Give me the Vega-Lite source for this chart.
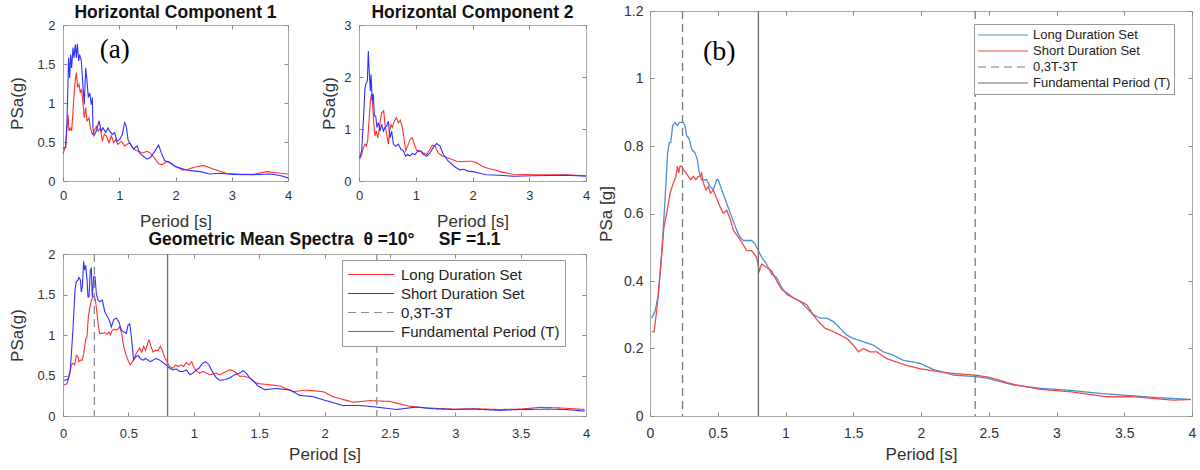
{
"$schema": "https://vega.github.io/schema/vega-lite/v6.json",
"background": "white",
"padding": {"left": 8, "top": 3, "right": 2, "bottom": 2},
"config": {
  "font": "Liberation Sans",
  "view": {"stroke": "#a8a8a8", "strokeWidth": 1},
  "axis": {"domain": false, "grid": false, "minExtent": 0, "tickColor": "#8a8a8a", "tickSize": -4, "labelFlush": false, "labelOverlap": false, "labelColor": "#333333", "titleColor": "#333333", "titleFontWeight": "normal", "labelFont": "Liberation Sans", "titleFont": "Liberation Sans"},
  "axisX": {"minExtent": 0},
  "axisY": {"minExtent": 0}
},
"datasets": {
  "hc1L": [{"T":0,"PSa":0.35},{"T":0.047,"PSa":0.45},{"T":0.089,"PSa":0.85},{"T":0.107,"PSa":0.64},{"T":0.13,"PSa":0.68},{"T":0.154,"PSa":0.64},{"T":0.178,"PSa":0.9},{"T":0.207,"PSa":1.22},{"T":0.237,"PSa":1.39},{"T":0.261,"PSa":1.2},{"T":0.284,"PSa":1.24},{"T":0.308,"PSa":1.13},{"T":0.332,"PSa":1.18},{"T":0.356,"PSa":0.98},{"T":0.379,"PSa":0.81},{"T":0.403,"PSa":0.94},{"T":0.427,"PSa":0.77},{"T":0.462,"PSa":0.81},{"T":0.486,"PSa":0.68},{"T":0.521,"PSa":0.6},{"T":0.557,"PSa":0.64},{"T":0.593,"PSa":0.7},{"T":0.628,"PSa":0.64},{"T":0.664,"PSa":0.68},{"T":0.699,"PSa":0.51},{"T":0.735,"PSa":0.6},{"T":0.77,"PSa":0.58},{"T":0.818,"PSa":0.49},{"T":0.859,"PSa":0.58},{"T":0.901,"PSa":0.49},{"T":0.936,"PSa":0.53},{"T":0.978,"PSa":0.47},{"T":1.037,"PSa":0.51},{"T":1.096,"PSa":0.45},{"T":1.185,"PSa":0.49},{"T":1.256,"PSa":0.41},{"T":1.333,"PSa":0.38},{"T":1.422,"PSa":0.36},{"T":1.493,"PSa":0.38},{"T":1.55,"PSa":0.36},{"T":1.62,"PSa":0.3},{"T":1.7,"PSa":0.22},{"T":1.76,"PSa":0.21},{"T":1.85,"PSa":0.25},{"T":1.93,"PSa":0.22},{"T":2.02,"PSa":0.18},{"T":2.13,"PSa":0.14},{"T":2.22,"PSa":0.15},{"T":2.35,"PSa":0.18},{"T":2.5,"PSa":0.2},{"T":2.68,"PSa":0.15},{"T":2.9,"PSa":0.1},{"T":3.15,"PSa":0.085},{"T":3.38,"PSa":0.085},{"T":3.62,"PSa":0.12},{"T":3.86,"PSa":0.1},{"T":4,"PSa":0.09}],
  "hc1S": [{"T":0,"PSa":0.42},{"T":0.047,"PSa":0.43},{"T":0.071,"PSa":0.77},{"T":0.1,"PSa":1.58},{"T":0.119,"PSa":1.32},{"T":0.136,"PSa":1.62},{"T":0.154,"PSa":1.45},{"T":0.178,"PSa":1.71},{"T":0.196,"PSa":1.58},{"T":0.219,"PSa":1.75},{"T":0.237,"PSa":1.58},{"T":0.255,"PSa":1.76},{"T":0.279,"PSa":1.54},{"T":0.296,"PSa":1.62},{"T":0.326,"PSa":1.54},{"T":0.356,"PSa":1.2},{"T":0.379,"PSa":0.98},{"T":0.403,"PSa":1.45},{"T":0.427,"PSa":1.28},{"T":0.45,"PSa":1.07},{"T":0.474,"PSa":1.13},{"T":0.504,"PSa":0.98},{"T":0.521,"PSa":1.07},{"T":0.533,"PSa":0.68},{"T":0.551,"PSa":0.58},{"T":0.593,"PSa":0.64},{"T":0.64,"PSa":0.77},{"T":0.681,"PSa":0.64},{"T":0.711,"PSa":0.68},{"T":0.759,"PSa":0.62},{"T":0.8,"PSa":0.68},{"T":0.83,"PSa":0.64},{"T":0.877,"PSa":0.6},{"T":0.919,"PSa":0.62},{"T":0.96,"PSa":0.51},{"T":1.007,"PSa":0.53},{"T":1.055,"PSa":0.6},{"T":1.096,"PSa":0.75},{"T":1.126,"PSa":0.7},{"T":1.156,"PSa":0.53},{"T":1.197,"PSa":0.47},{"T":1.256,"PSa":0.41},{"T":1.316,"PSa":0.45},{"T":1.363,"PSa":0.36},{"T":1.422,"PSa":0.32},{"T":1.493,"PSa":0.28},{"T":1.553,"PSa":0.3},{"T":1.63,"PSa":0.38},{"T":1.7,"PSa":0.46},{"T":1.748,"PSa":0.36},{"T":1.807,"PSa":0.26},{"T":1.896,"PSa":0.24},{"T":1.985,"PSa":0.19},{"T":2.074,"PSa":0.17},{"T":2.193,"PSa":0.14},{"T":2.311,"PSa":0.13},{"T":2.44,"PSa":0.12},{"T":2.61,"PSa":0.09},{"T":2.79,"PSa":0.1},{"T":3.03,"PSa":0.085},{"T":3.38,"PSa":0.08},{"T":3.68,"PSa":0.09},{"T":3.86,"PSa":0.07},{"T":4,"PSa":0.04}],
  "hc2L": [{"T":0.012,"PSa":0.42},{"T":0.047,"PSa":0.51},{"T":0.076,"PSa":0.64},{"T":0.106,"PSa":0.71},{"T":0.129,"PSa":0.67},{"T":0.153,"PSa":0.77},{"T":0.176,"PSa":1.15},{"T":0.2,"PSa":1.54},{"T":0.223,"PSa":1.67},{"T":0.241,"PSa":1.47},{"T":0.258,"PSa":1.15},{"T":0.282,"PSa":0.87},{"T":0.305,"PSa":0.96},{"T":0.329,"PSa":0.83},{"T":0.352,"PSa":0.96},{"T":0.376,"PSa":1.15},{"T":0.399,"PSa":1.31},{"T":0.435,"PSa":1.35},{"T":0.458,"PSa":1.09},{"T":0.488,"PSa":0.9},{"T":0.517,"PSa":0.71},{"T":0.54,"PSa":0.96},{"T":0.564,"PSa":1.09},{"T":0.587,"PSa":1.03},{"T":0.623,"PSa":1.15},{"T":0.658,"PSa":1.22},{"T":0.693,"PSa":1.12},{"T":0.728,"PSa":1.17},{"T":0.764,"PSa":1.03},{"T":0.799,"PSa":0.77},{"T":0.822,"PSa":0.58},{"T":0.858,"PSa":0.67},{"T":0.899,"PSa":0.8},{"T":0.94,"PSa":0.83},{"T":0.975,"PSa":0.71},{"T":1.016,"PSa":0.59},{"T":1.057,"PSa":0.56},{"T":1.093,"PSa":0.58},{"T":1.134,"PSa":0.54},{"T":1.192,"PSa":0.51},{"T":1.251,"PSa":0.61},{"T":1.292,"PSa":0.69},{"T":1.339,"PSa":0.67},{"T":1.398,"PSa":0.54},{"T":1.468,"PSa":0.48},{"T":1.545,"PSa":0.45},{"T":1.633,"PSa":0.42},{"T":1.721,"PSa":0.38},{"T":1.809,"PSa":0.37},{"T":1.897,"PSa":0.38},{"T":1.985,"PSa":0.38},{"T":2.073,"PSa":0.35},{"T":2.162,"PSa":0.29},{"T":2.279,"PSa":0.24},{"T":2.397,"PSa":0.21},{"T":2.48,"PSa":0.18},{"T":2.72,"PSa":0.13},{"T":3.07,"PSa":0.12},{"T":3.42,"PSa":0.12},{"T":3.66,"PSa":0.12},{"T":4,"PSa":0.1}],
  "hc2S": [{"T":0.012,"PSa":0.45},{"T":0.047,"PSa":0.58},{"T":0.076,"PSa":1.15},{"T":0.106,"PSa":1.79},{"T":0.129,"PSa":1.89},{"T":0.147,"PSa":1.92},{"T":0.164,"PSa":2.5},{"T":0.182,"PSa":2.05},{"T":0.2,"PSa":1.73},{"T":0.211,"PSa":2.05},{"T":0.235,"PSa":1.54},{"T":0.253,"PSa":1.67},{"T":0.27,"PSa":1.25},{"T":0.294,"PSa":1.25},{"T":0.317,"PSa":1.03},{"T":0.341,"PSa":1.12},{"T":0.37,"PSa":0.96},{"T":0.399,"PSa":1.09},{"T":0.429,"PSa":0.96},{"T":0.458,"PSa":1.03},{"T":0.488,"PSa":1.06},{"T":0.517,"PSa":1.15},{"T":0.546,"PSa":0.83},{"T":0.576,"PSa":0.96},{"T":0.605,"PSa":0.71},{"T":0.646,"PSa":0.67},{"T":0.693,"PSa":0.71},{"T":0.74,"PSa":0.61},{"T":0.781,"PSa":0.58},{"T":0.822,"PSa":0.48},{"T":0.858,"PSa":0.51},{"T":0.899,"PSa":0.48},{"T":0.94,"PSa":0.53},{"T":0.987,"PSa":0.51},{"T":1.046,"PSa":0.59},{"T":1.093,"PSa":0.56},{"T":1.134,"PSa":0.51},{"T":1.192,"PSa":0.48},{"T":1.251,"PSa":0.54},{"T":1.31,"PSa":0.65},{"T":1.369,"PSa":0.72},{"T":1.427,"PSa":0.67},{"T":1.486,"PSa":0.51},{"T":1.574,"PSa":0.38},{"T":1.692,"PSa":0.27},{"T":1.78,"PSa":0.21},{"T":1.84,"PSa":0.225},{"T":1.927,"PSa":0.19},{"T":2.01,"PSa":0.18},{"T":2.162,"PSa":0.14},{"T":2.25,"PSa":0.12},{"T":2.48,"PSa":0.11},{"T":2.72,"PSa":0.09},{"T":3.07,"PSa":0.1},{"T":3.66,"PSa":0.11},{"T":4,"PSa":0.09}],
  "gmL": [{"T":0.005,"PSa":0.38},{"T":0.031,"PSa":0.4},{"T":0.051,"PSa":0.51},{"T":0.064,"PSa":0.63},{"T":0.076,"PSa":0.65},{"T":0.089,"PSa":0.63},{"T":0.102,"PSa":0.75},{"T":0.115,"PSa":0.73},{"T":0.122,"PSa":0.67},{"T":0.133,"PSa":0.69},{"T":0.148,"PSa":0.69},{"T":0.158,"PSa":0.77},{"T":0.173,"PSa":0.94},{"T":0.184,"PSa":0.98},{"T":0.194,"PSa":1.23},{"T":0.204,"PSa":1.33},{"T":0.217,"PSa":1.43},{"T":0.229,"PSa":1.47},{"T":0.24,"PSa":1.49},{"T":0.25,"PSa":1.41},{"T":0.26,"PSa":1.27},{"T":0.27,"PSa":1.12},{"T":0.28,"PSa":1.02},{"T":0.301,"PSa":1.02},{"T":0.319,"PSa":1.03},{"T":0.337,"PSa":1.01},{"T":0.352,"PSa":1.04},{"T":0.362,"PSa":1.0},{"T":0.377,"PSa":1.06},{"T":0.395,"PSa":1.07},{"T":0.413,"PSa":1.06},{"T":0.433,"PSa":1.1},{"T":0.449,"PSa":1.02},{"T":0.464,"PSa":0.86},{"T":0.479,"PSa":0.77},{"T":0.497,"PSa":0.69},{"T":0.515,"PSa":0.63},{"T":0.53,"PSa":0.67},{"T":0.548,"PSa":0.73},{"T":0.566,"PSa":0.79},{"T":0.586,"PSa":0.84},{"T":0.602,"PSa":0.79},{"T":0.617,"PSa":0.86},{"T":0.632,"PSa":0.81},{"T":0.648,"PSa":0.9},{"T":0.658,"PSa":0.94},{"T":0.673,"PSa":0.86},{"T":0.688,"PSa":0.79},{"T":0.709,"PSa":0.81},{"T":0.729,"PSa":0.81},{"T":0.744,"PSa":0.86},{"T":0.76,"PSa":0.81},{"T":0.775,"PSa":0.73},{"T":0.795,"PSa":0.67},{"T":0.816,"PSa":0.61},{"T":0.841,"PSa":0.59},{"T":0.862,"PSa":0.63},{"T":0.882,"PSa":0.61},{"T":0.902,"PSa":0.63},{"T":0.923,"PSa":0.61},{"T":0.943,"PSa":0.66},{"T":0.964,"PSa":0.63},{"T":0.984,"PSa":0.67},{"T":1.004,"PSa":0.59},{"T":1.025,"PSa":0.55},{"T":1.045,"PSa":0.53},{"T":1.071,"PSa":0.55},{"T":1.096,"PSa":0.53},{"T":1.122,"PSa":0.51},{"T":1.147,"PSa":0.52},{"T":1.173,"PSa":0.53},{"T":1.198,"PSa":0.51},{"T":1.224,"PSa":0.53},{"T":1.249,"PSa":0.55},{"T":1.275,"PSa":0.57},{"T":1.3,"PSa":0.56},{"T":1.326,"PSa":0.53},{"T":1.351,"PSa":0.49},{"T":1.389,"PSa":0.49},{"T":1.428,"PSa":0.47},{"T":1.466,"PSa":0.42},{"T":1.491,"PSa":0.4},{"T":1.56,"PSa":0.39},{"T":1.66,"PSa":0.37},{"T":1.76,"PSa":0.3},{"T":1.86,"PSa":0.32},{"T":1.99,"PSa":0.3},{"T":2.07,"PSa":0.235},{"T":2.22,"PSa":0.17},{"T":2.35,"PSa":0.19},{"T":2.5,"PSa":0.18},{"T":2.65,"PSa":0.12},{"T":2.78,"PSa":0.1},{"T":2.99,"PSa":0.085},{"T":3.14,"PSa":0.09},{"T":3.34,"PSa":0.08},{"T":3.49,"PSa":0.085},{"T":3.65,"PSa":0.107},{"T":3.8,"PSa":0.1},{"T":3.99,"PSa":0.08}],
  "gmS": [{"T":0.005,"PSa":0.44},{"T":0.038,"PSa":0.45},{"T":0.056,"PSa":0.57},{"T":0.076,"PSa":1.06},{"T":0.092,"PSa":1.56},{"T":0.102,"PSa":1.66},{"T":0.115,"PSa":1.68},{"T":0.122,"PSa":1.71},{"T":0.133,"PSa":1.68},{"T":0.14,"PSa":1.53},{"T":0.148,"PSa":1.6},{"T":0.158,"PSa":1.91},{"T":0.166,"PSa":1.8},{"T":0.173,"PSa":1.86},{"T":0.184,"PSa":1.68},{"T":0.191,"PSa":1.47},{"T":0.199,"PSa":1.47},{"T":0.209,"PSa":1.8},{"T":0.217,"PSa":1.82},{"T":0.224,"PSa":1.47},{"T":0.235,"PSa":1.72},{"T":0.245,"PSa":1.72},{"T":0.255,"PSa":1.51},{"T":0.268,"PSa":1.43},{"T":0.28,"PSa":1.41},{"T":0.301,"PSa":1.43},{"T":0.319,"PSa":1.29},{"T":0.331,"PSa":1.25},{"T":0.352,"PSa":1.19},{"T":0.37,"PSa":1.1},{"T":0.388,"PSa":1.19},{"T":0.408,"PSa":1.21},{"T":0.428,"PSa":1.16},{"T":0.446,"PSa":1.06},{"T":0.464,"PSa":1.04},{"T":0.484,"PSa":1.02},{"T":0.497,"PSa":1.12},{"T":0.51,"PSa":1.14},{"T":0.523,"PSa":0.98},{"T":0.54,"PSa":0.69},{"T":0.556,"PSa":0.73},{"T":0.574,"PSa":0.75},{"T":0.591,"PSa":0.71},{"T":0.612,"PSa":0.69},{"T":0.632,"PSa":0.71},{"T":0.65,"PSa":0.69},{"T":0.668,"PSa":0.67},{"T":0.688,"PSa":0.69},{"T":0.714,"PSa":0.71},{"T":0.739,"PSa":0.69},{"T":0.765,"PSa":0.66},{"T":0.79,"PSa":0.63},{"T":0.816,"PSa":0.59},{"T":0.841,"PSa":0.57},{"T":0.867,"PSa":0.58},{"T":0.892,"PSa":0.55},{"T":0.918,"PSa":0.55},{"T":0.943,"PSa":0.57},{"T":0.969,"PSa":0.51},{"T":0.994,"PSa":0.53},{"T":1.02,"PSa":0.57},{"T":1.04,"PSa":0.59},{"T":1.066,"PSa":0.65},{"T":1.091,"PSa":0.67},{"T":1.117,"PSa":0.63},{"T":1.142,"PSa":0.55},{"T":1.173,"PSa":0.47},{"T":1.198,"PSa":0.44},{"T":1.236,"PSa":0.45},{"T":1.275,"PSa":0.47},{"T":1.313,"PSa":0.51},{"T":1.351,"PSa":0.53},{"T":1.377,"PSa":0.56},{"T":1.402,"PSa":0.53},{"T":1.428,"PSa":0.47},{"T":1.453,"PSa":0.44},{"T":1.491,"PSa":0.37},{"T":1.545,"PSa":0.325},{"T":1.63,"PSa":0.34},{"T":1.74,"PSa":0.32},{"T":1.81,"PSa":0.255},{"T":1.91,"PSa":0.24},{"T":1.99,"PSa":0.2},{"T":2.14,"PSa":0.13},{"T":2.27,"PSa":0.13},{"T":2.4,"PSa":0.11},{"T":2.55,"PSa":0.08},{"T":2.7,"PSa":0.11},{"T":2.83,"PSa":0.09},{"T":2.99,"PSa":0.08},{"T":3.14,"PSa":0.085},{"T":3.34,"PSa":0.07},{"T":3.49,"PSa":0.08},{"T":3.7,"PSa":0.085},{"T":3.85,"PSa":0.08},{"T":3.99,"PSa":0.06}],
  "bL": [{"T":0.012,"PSa":0.29},{"T":0.037,"PSa":0.31},{"T":0.062,"PSa":0.36},{"T":0.086,"PSa":0.48},{"T":0.111,"PSa":0.64},{"T":0.13,"PSa":0.78},{"T":0.143,"PSa":0.81},{"T":0.153,"PSa":0.81},{"T":0.167,"PSa":0.86},{"T":0.185,"PSa":0.87},{"T":0.202,"PSa":0.86},{"T":0.216,"PSa":0.87},{"T":0.234,"PSa":0.87},{"T":0.246,"PSa":0.87},{"T":0.258,"PSa":0.86},{"T":0.271,"PSa":0.83},{"T":0.29,"PSa":0.82},{"T":0.308,"PSa":0.79},{"T":0.332,"PSa":0.78},{"T":0.349,"PSa":0.76},{"T":0.364,"PSa":0.72},{"T":0.381,"PSa":0.7},{"T":0.399,"PSa":0.7},{"T":0.418,"PSa":0.7},{"T":0.443,"PSa":0.68},{"T":0.467,"PSa":0.67},{"T":0.492,"PSa":0.7},{"T":0.504,"PSa":0.7},{"T":0.529,"PSa":0.67},{"T":0.566,"PSa":0.63},{"T":0.603,"PSa":0.59},{"T":0.64,"PSa":0.55},{"T":0.664,"PSa":0.53},{"T":0.689,"PSa":0.52},{"T":0.713,"PSa":0.52},{"T":0.75,"PSa":0.52},{"T":0.775,"PSa":0.51},{"T":0.8,"PSa":0.49},{"T":0.824,"PSa":0.47},{"T":0.861,"PSa":0.45},{"T":0.898,"PSa":0.42},{"T":0.935,"PSa":0.41},{"T":0.972,"PSa":0.38},{"T":1.009,"PSa":0.36},{"T":1.058,"PSa":0.35},{"T":1.107,"PSa":0.34},{"T":1.156,"PSa":0.32},{"T":1.205,"PSa":0.3},{"T":1.255,"PSa":0.29},{"T":1.304,"PSa":0.29},{"T":1.353,"PSa":0.28},{"T":1.402,"PSa":0.26},{"T":1.451,"PSa":0.24},{"T":1.501,"PSa":0.23},{"T":1.574,"PSa":0.22},{"T":1.648,"PSa":0.21},{"T":1.722,"PSa":0.19},{"T":1.796,"PSa":0.18},{"T":1.87,"PSa":0.165},{"T":1.943,"PSa":0.16},{"T":2.0,"PSa":0.155},{"T":2.09,"PSa":0.138},{"T":2.24,"PSa":0.121},{"T":2.4,"PSa":0.117},{"T":2.49,"PSa":0.112},{"T":2.68,"PSa":0.092},{"T":2.88,"PSa":0.082},{"T":3.1,"PSa":0.076},{"T":3.32,"PSa":0.067},{"T":3.52,"PSa":0.061},{"T":3.76,"PSa":0.054},{"T":3.99,"PSa":0.049}],
  "bS": [{"T":0.012,"PSa":0.25},{"T":0.03,"PSa":0.25},{"T":0.049,"PSa":0.31},{"T":0.074,"PSa":0.42},{"T":0.103,"PSa":0.56},{"T":0.123,"PSa":0.6},{"T":0.148,"PSa":0.66},{"T":0.172,"PSa":0.69},{"T":0.192,"PSa":0.71},{"T":0.202,"PSa":0.74},{"T":0.212,"PSa":0.72},{"T":0.221,"PSa":0.74},{"T":0.234,"PSa":0.74},{"T":0.246,"PSa":0.73},{"T":0.266,"PSa":0.72},{"T":0.283,"PSa":0.71},{"T":0.3,"PSa":0.7},{"T":0.32,"PSa":0.71},{"T":0.339,"PSa":0.7},{"T":0.357,"PSa":0.71},{"T":0.369,"PSa":0.71},{"T":0.381,"PSa":0.72},{"T":0.394,"PSa":0.69},{"T":0.413,"PSa":0.67},{"T":0.43,"PSa":0.68},{"T":0.448,"PSa":0.66},{"T":0.467,"PSa":0.67},{"T":0.487,"PSa":0.65},{"T":0.517,"PSa":0.62},{"T":0.541,"PSa":0.6},{"T":0.566,"PSa":0.61},{"T":0.595,"PSa":0.58},{"T":0.615,"PSa":0.55},{"T":0.652,"PSa":0.53},{"T":0.684,"PSa":0.51},{"T":0.713,"PSa":0.49},{"T":0.75,"PSa":0.49},{"T":0.787,"PSa":0.47},{"T":0.807,"PSa":0.43},{"T":0.824,"PSa":0.45},{"T":0.861,"PSa":0.44},{"T":0.898,"PSa":0.43},{"T":0.935,"PSa":0.4},{"T":0.972,"PSa":0.375},{"T":1.009,"PSa":0.365},{"T":1.058,"PSa":0.35},{"T":1.107,"PSa":0.34},{"T":1.156,"PSa":0.33},{"T":1.205,"PSa":0.3},{"T":1.242,"PSa":0.28},{"T":1.292,"PSa":0.26},{"T":1.353,"PSa":0.25},{"T":1.402,"PSa":0.24},{"T":1.451,"PSa":0.23},{"T":1.501,"PSa":0.21},{"T":1.538,"PSa":0.19},{"T":1.574,"PSa":0.2},{"T":1.624,"PSa":0.19},{"T":1.673,"PSa":0.19},{"T":1.747,"PSa":0.17},{"T":1.82,"PSa":0.16},{"T":1.894,"PSa":0.15},{"T":1.993,"PSa":0.14},{"T":2.14,"PSa":0.131},{"T":2.24,"PSa":0.126},{"T":2.4,"PSa":0.121},{"T":2.51,"PSa":0.114},{"T":2.68,"PSa":0.094},{"T":2.88,"PSa":0.079},{"T":3.1,"PSa":0.072},{"T":3.37,"PSa":0.057},{"T":3.57,"PSa":0.057},{"T":3.86,"PSa":0.047},{"T":3.99,"PSa":0.049}],
  "dashT": [{"T":0.24},{"T":2.4}],
  "fundT": [{"T":0.8}],
  "tagA": [{"label":"(a)"}],
  "tagB": [{"label":"(b)"}]
},
"hconcat": [
  {"vconcat": [
    {"width": 523, "height": 14, "view": {"stroke": null}, "data": {"values": []}, "mark": {"type": "rule", "opacity": 0}, "encoding": {}},
    {"vconcat": [
      {"hconcat": [
        {"width": 225, "height": 156,
         "title": {"text": "Horizontal Component 1", "fontSize": 17.5, "fontWeight": "bold", "baseline": "alphabetic", "offset": -16, "color": "#111111", "font": "Liberation Sans"},
         "layer": [
           {"data": {"name": "hc1L"}, "mark": {"type": "line", "color": "#ff3030", "strokeWidth": 1.1},
            "encoding": {
              "x": {"field": "T", "type": "quantitative", "scale": {"domain": [0, 4]}, "axis": {"values": [0,1,2,3,4], "format": "~g", "title": "Period [s]", "labelFontSize": 13, "titleFontSize": 17, "labelPadding": 12, "titlePadding": 11}},
              "y": {"field": "PSa", "type": "quantitative", "scale": {"domain": [0, 2]}, "axis": {"values": [0,0.5,1,1.5,2], "format": "~g", "title": "PSa(g)", "labelFontSize": 13, "titleFontSize": 17, "labelPadding": 12, "titlePadding": 10}}}},
           {"data": {"name": "hc1S"}, "mark": {"type": "line", "color": "#3030ff", "strokeWidth": 1.1},
            "encoding": {
              "x": {"field": "T", "type": "quantitative", "axis": {"orient": "top", "values": [0,1,2,3,4], "labels": false, "title": null}},
              "y": {"field": "PSa", "type": "quantitative", "axis": {"orient": "right", "values": [0,0.5,1,1.5,2], "labels": false, "title": null}}}},
           {"data": {"name": "tagA"}, "mark": {"type": "text", "font": "Liberation Serif", "fontSize": 27, "color": "#000000", "baseline": "middle", "align": "center"},
            "encoding": {"x": {"datum": 0.92, "type": "quantitative", "axis": null}, "y": {"datum": 1.68, "type": "quantitative", "axis": null}, "text": {"field": "label"}}}
         ],
         "resolve": {"axis": {"x": "independent", "y": "independent"}}},
        {"width": 227, "height": 156,
         "title": {"text": "Horizontal Component 2", "fontSize": 17.5, "fontWeight": "bold", "baseline": "alphabetic", "offset": -16, "color": "#111111", "font": "Liberation Sans"},
         "layer": [
           {"data": {"name": "hc2L"}, "mark": {"type": "line", "color": "#ff3030", "strokeWidth": 1.1},
            "encoding": {
              "x": {"field": "T", "type": "quantitative", "scale": {"domain": [0, 4]}, "axis": {"values": [0,1,2,3,4], "format": "~g", "title": "Period [s]", "labelFontSize": 13, "titleFontSize": 17, "labelPadding": 12, "titlePadding": 11}},
              "y": {"field": "PSa", "type": "quantitative", "scale": {"domain": [0, 3]}, "axis": {"values": [0,1,2,3], "format": "~g", "title": "PSa(g)", "labelFontSize": 13, "titleFontSize": 17, "labelPadding": 12, "titlePadding": 5.5}}}},
           {"data": {"name": "hc2S"}, "mark": {"type": "line", "color": "#3030ff", "strokeWidth": 1.1},
            "encoding": {
              "x": {"field": "T", "type": "quantitative", "axis": {"orient": "top", "values": [0,1,2,3,4], "labels": false, "title": null}},
              "y": {"field": "PSa", "type": "quantitative", "axis": {"orient": "right", "values": [0,1,2,3], "labels": false, "title": null}}}}
         ],
         "resolve": {"axis": {"x": "independent", "y": "independent"}}}
      ], "spacing": 71, "bounds": "flush"},
      {"width": 523, "height": 162,
       "title": {"text": "Geometric Mean Spectra \u00a0\u03b8 =10\u00b0\u00a0\u00a0\u00a0\u00a0 SF =1.1", "fontSize": 17.5, "fontWeight": "bold", "baseline": "alphabetic", "offset": -14, "color": "#111111", "font": "Liberation Sans"},
       "layer": [
         {"data": {"name": "gmL"}, "mark": {"type": "line", "strokeWidth": 1.1},
          "encoding": {
            "x": {"field": "T", "type": "quantitative", "scale": {"domain": [0, 4]}, "axis": {"values": [0,0.5,1,1.5,2,2.5,3,3.5,4], "format": "~g", "title": "Period [s]", "labelFontSize": 13, "titleFontSize": 17, "labelPadding": 15, "titlePadding": 6}},
            "y": {"field": "PSa", "type": "quantitative", "scale": {"domain": [0, 2]}, "axis": {"values": [0,0.5,1,1.5,2], "format": "~g", "title": "PSa(g)", "labelFontSize": 13, "titleFontSize": 17, "labelPadding": 12, "titlePadding": 10}},
            "color": {"datum": "Long Duration Set", "type": "nominal", "scale": {"domain": ["Long Duration Set", "Short Duration Set", "0,3T-3T", "Fundamental Period (T)"], "range": ["#ff3030", "#3030ff", "#8c8c8c", "#6e6e6e"]},
              "legend": {"title": null, "orient": "none", "legendX": 279, "legendY": 6, "symbolType": "stroke", "symbolSize": 2116, "symbolStrokeWidth": 1.2, "labelFontSize": 15, "labelFont": "Liberation Sans", "labelColor": "#222222", "labelOffset": 6, "padding": 5, "strokeColor": "#999999", "fillColor": "white", "rowPadding": 0, "clipHeight": 19, "labelLimit": 300}},
            "strokeDash": {"datum": "Long Duration Set", "type": "nominal", "scale": {"domain": ["Long Duration Set", "Short Duration Set", "0,3T-3T", "Fundamental Period (T)"], "range": [[1,0],[1,0],[8,5],[1,0]]},
              "legend": {"title": null, "orient": "none", "legendX": 279, "legendY": 6, "symbolType": "stroke", "symbolSize": 2116, "symbolStrokeWidth": 1.2, "labelFontSize": 15, "labelFont": "Liberation Sans", "labelColor": "#222222", "labelOffset": 6, "padding": 5, "strokeColor": "#999999", "fillColor": "white", "rowPadding": 0, "clipHeight": 19, "labelLimit": 300}}}},
         {"data": {"name": "gmS"}, "mark": {"type": "line", "strokeWidth": 1.1},
          "encoding": {
            "x": {"field": "T", "type": "quantitative", "axis": {"orient": "top", "values": [0,0.5,1,1.5,2,2.5,3,3.5,4], "labels": false, "title": null}},
            "y": {"field": "PSa", "type": "quantitative", "axis": {"orient": "right", "values": [0,0.5,1,1.5,2], "labels": false, "title": null}},
            "color": {"datum": "Short Duration Set", "type": "nominal"},
            "strokeDash": {"datum": "Short Duration Set", "type": "nominal"}}},
         {"data": {"name": "dashT"}, "mark": {"type": "rule", "strokeWidth": 1.3},
          "encoding": {
            "x": {"field": "T", "type": "quantitative", "axis": null},
            "color": {"datum": "0,3T-3T", "type": "nominal"},
            "strokeDash": {"datum": "0,3T-3T", "type": "nominal"}}},
         {"data": {"name": "fundT"}, "mark": {"type": "rule", "strokeWidth": 1.3},
          "encoding": {
            "x": {"field": "T", "type": "quantitative", "axis": null},
            "color": {"datum": "Fundamental Period (T)", "type": "nominal"},
            "strokeDash": {"datum": "Fundamental Period (T)", "type": "nominal"}}}
       ],
       "resolve": {"axis": {"x": "independent", "y": "independent"}}}
    ], "spacing": 0, "bounds": "full",
    "resolve": {"scale": {"color": "independent", "strokeDash": "independent"}, "legend": {"color": "independent", "strokeDash": "independent"}}}
  ], "spacing": 0, "bounds": "flush",
  "resolve": {"scale": {"color": "independent", "strokeDash": "independent"}, "legend": {"color": "independent", "strokeDash": "independent"}}},
  {"width": 542, "height": 405,
   "layer": [
     {"data": {"name": "bL"}, "mark": {"type": "line", "strokeWidth": 1.3},
      "encoding": {
        "x": {"field": "T", "type": "quantitative", "scale": {"domain": [0, 4]}, "axis": {"values": [0,0.5,1,1.5,2,2.5,3,3.5,4], "format": "~g", "title": "Period [s]", "labelFontSize": 14, "titleFontSize": 17, "labelPadding": 14, "titlePadding": 6}},
        "y": {"field": "PSa", "type": "quantitative", "scale": {"domain": [0, 1.2]}, "axis": {"values": [0,0.2,0.4,0.6,0.8,1,1.2], "format": "~g", "title": "PSa [g]", "labelFontSize": 14, "titleFontSize": 17, "labelPadding": 11, "titlePadding": 8}},
        "color": {"datum": "Long Duration Set", "type": "nominal", "scale": {"domain": ["Long Duration Set", "Short Duration Set", "0,3T-3T", "Fundamental Period (T)"], "range": ["#4a8fd4", "#f24a4a", "#7a7a7a", "#6a6a6a"]},
          "legend": {"title": null, "orient": "none", "legendX": 324, "legendY": 13, "symbolType": "stroke", "symbolSize": 2500, "symbolStrokeWidth": 1.2, "labelFontSize": 13, "labelFont": "Liberation Sans", "labelColor": "#222222", "labelOffset": 4, "padding": 3, "strokeColor": "#999999", "fillColor": "white", "rowPadding": 0, "clipHeight": 16, "labelLimit": 300}},
        "strokeDash": {"datum": "Long Duration Set", "type": "nominal", "scale": {"domain": ["Long Duration Set", "Short Duration Set", "0,3T-3T", "Fundamental Period (T)"], "range": [[1,0],[1,0],[8,5],[1,0]]},
          "legend": {"title": null, "orient": "none", "legendX": 324, "legendY": 13, "symbolType": "stroke", "symbolSize": 2500, "symbolStrokeWidth": 1.2, "labelFontSize": 13, "labelFont": "Liberation Sans", "labelColor": "#222222", "labelOffset": 4, "padding": 3, "strokeColor": "#999999", "fillColor": "white", "rowPadding": 0, "clipHeight": 16, "labelLimit": 300}}}},
     {"data": {"name": "bS"}, "mark": {"type": "line", "strokeWidth": 1.3},
      "encoding": {
        "x": {"field": "T", "type": "quantitative", "axis": {"orient": "top", "values": [0,0.5,1,1.5,2,2.5,3,3.5,4], "labels": false, "title": null}},
        "y": {"field": "PSa", "type": "quantitative", "axis": {"orient": "right", "values": [0,0.2,0.4,0.6,0.8,1,1.2], "labels": false, "title": null}},
        "color": {"datum": "Short Duration Set", "type": "nominal"},
        "strokeDash": {"datum": "Short Duration Set", "type": "nominal"}}},
     {"data": {"name": "dashT"}, "mark": {"type": "rule", "strokeWidth": 1.3},
      "encoding": {
        "x": {"field": "T", "type": "quantitative", "axis": null},
        "color": {"datum": "0,3T-3T", "type": "nominal"},
        "strokeDash": {"datum": "0,3T-3T", "type": "nominal"}}},
     {"data": {"name": "fundT"}, "mark": {"type": "rule", "strokeWidth": 1.3},
      "encoding": {
        "x": {"field": "T", "type": "quantitative", "axis": null},
        "color": {"datum": "Fundamental Period (T)", "type": "nominal"},
        "strokeDash": {"datum": "Fundamental Period (T)", "type": "nominal"}}},
     {"data": {"name": "tagB"}, "mark": {"type": "text", "font": "Liberation Serif", "fontSize": 28, "color": "#000000", "baseline": "middle", "align": "center"},
      "encoding": {"x": {"datum": 0.511, "type": "quantitative", "axis": null}, "y": {"datum": 1.08, "type": "quantitative", "axis": null}, "text": {"field": "label"}}}
   ],
   "resolve": {"axis": {"x": "independent", "y": "independent"}}}
],
"spacing": 6,
"bounds": "full",
"resolve": {"scale": {"color": "independent", "strokeDash": "independent"}, "legend": {"color": "independent", "strokeDash": "independent"}}
}
